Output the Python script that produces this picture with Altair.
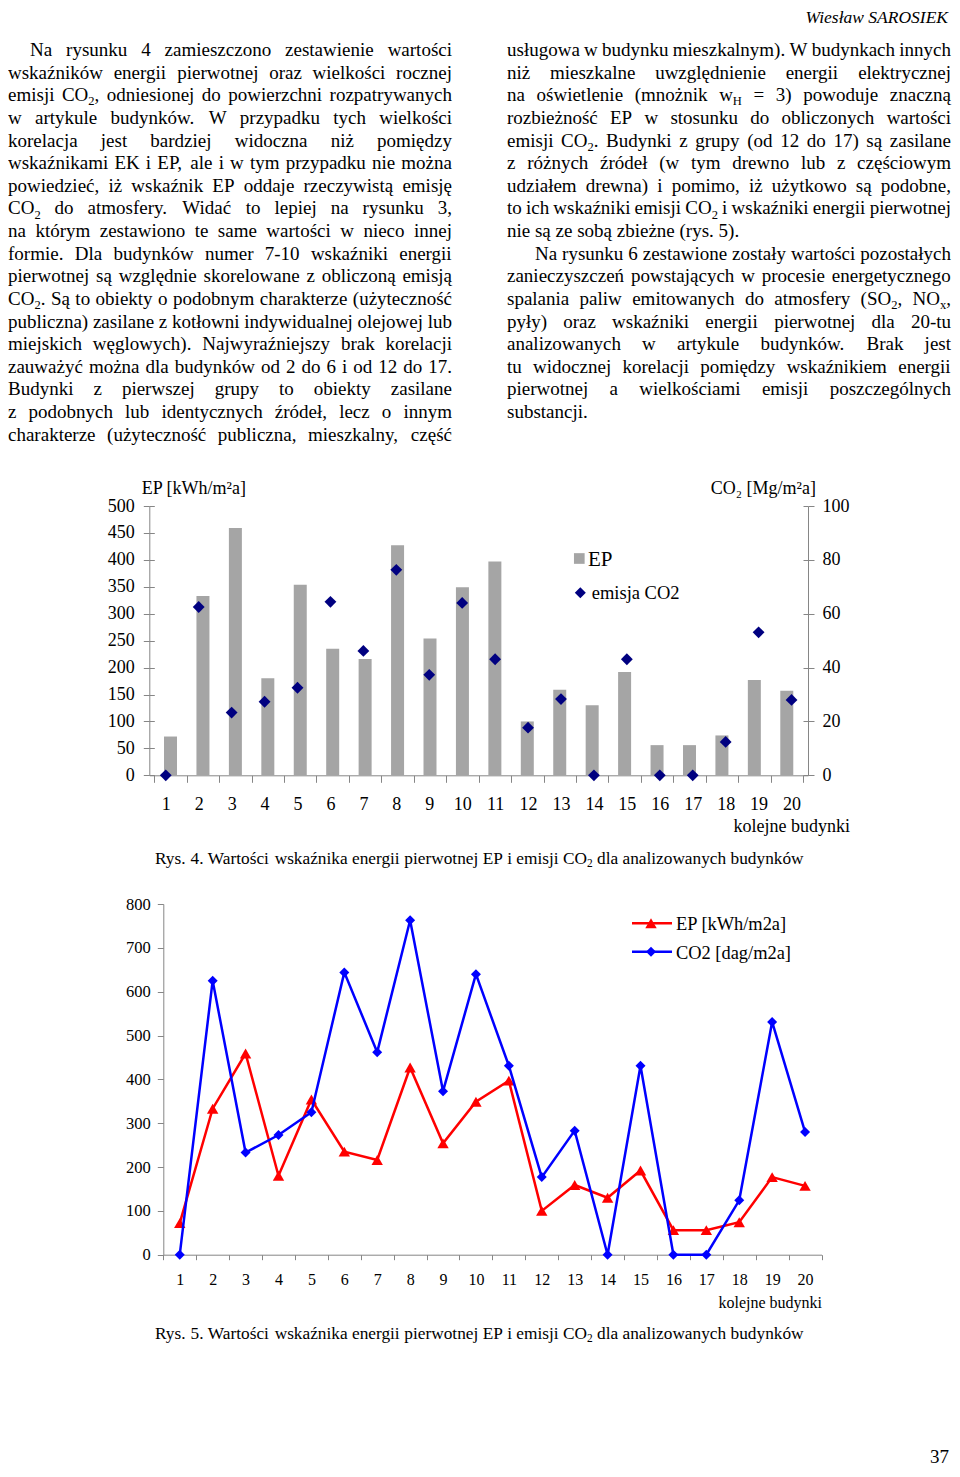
import altair as alt
import pandas as pd

# ---------------- chart values ----------------
buildings = list(range(1, 21))
ep_kwh = [72, 333, 459, 180, 354, 235, 216, 427, 254, 349, 397, 100, 159, 130, 192, 56, 56, 74, 177, 157]
co2_mg = [0, 62.5, 23.3, 27.3, 32.5, 64.4, 46.2, 76.3, 37.3, 64.0, 43.1, 17.7, 28.3, 0, 43.1, 0, 0, 12.4, 53.1, 28.0]
co2_dag = [0, 625, 233, 273, 325, 644, 462, 763, 373, 640, 431, 177, 283, 0, 431, 0, 0, 124, 531, 280]
ep_ticks = [0, 50, 100, 150, 200, 250, 300, 350, 400, 450, 500]
co2_ticks = [0, 20, 40, 60, 80, 100]
fig5_ticks = [0, 100, 200, 300, 400, 500, 600, 700, 800]
band_edges = [0.5, 1.5, 2.5, 3.5, 4.5, 5.5, 6.5, 7.5, 8.5, 9.5, 10.5,
              11.5, 12.5, 13.5, 14.5, 15.5, 16.5, 17.5, 18.5, 19.5, 20.5]

# ---------------- page text ----------------
header_text = "Wiesław SAROSIEK"
page_no = "37"
left_lines = [
    "Na rysunku 4 zamieszczono zestawienie wartości",
    "wskaźników energii pierwotnej oraz wielkości rocznej",
    "emisji CO_2, odniesionej do powierzchni rozpatrywanych",
    "w artykule budynków. W przypadku tych wielkości",
    "korelacja jest bardziej widoczna niż pomiędzy",
    "wskaźnikami EK i EP, ale i w tym przypadku nie można",
    "powiedzieć, iż wskaźnik EP oddaje rzeczywistą emisję",
    "CO_2 do atmosfery. Widać to lepiej na rysunku 3,",
    "na którym zestawiono te same wartości w nieco innej",
    "formie. Dla budynków numer 7-10 wskaźniki energii",
    "pierwotnej są względnie skorelowane z obliczoną emisją",
    "CO_2. Są to obiekty o podobnym charakterze (użyteczność",
    "publiczna) zasilane z kotłowni indywidualnej olejowej lub",
    "miejskich węglowych). Najwyraźniejszy brak korelacji",
    "zauważyć można dla budynków od 2 do 6 i od 12 do 17.",
    "Budynki z pierwszej grupy to obiekty zasilane",
    "z podobnych lub identycznych źródeł, lecz o innym",
    "charakterze (użyteczność publiczna, mieszkalny, część",
]
right_lines = [
    "usługowa w budynku mieszkalnym). W budynkach innych",
    "niż mieszkalne uwzględnienie energii elektrycznej",
    "na oświetlenie (mnożnik w_H = 3) powoduje znaczną",
    "rozbieżność EP w stosunku do obliczonych wartości",
    "emisji CO_2. Budynki z grupy (od 12 do 17) są zasilane",
    "z różnych źródeł (w tym drewno lub z częściowym",
    "udziałem drewna) i pomimo, iż użytkowo są podobne,",
    "to ich wskaźniki emisji CO_2 i wskaźniki energii pierwotnej",
    "nie są ze sobą zbieżne (rys. 5).",
    "Na rysunku 6 zestawione zostały wartości pozostałych",
    "zanieczyszczeń powstających w procesie energetycznego",
    "spalania paliw emitowanych do atmosfery (SO_2, NO_x,",
    "pyły) oraz wskaźniki energii pierwotnej dla 20-tu",
    "analizowanych w artykule budynków. Brak jest",
    "tu widocznej korelacji pomiędzy wskaźnikiem energii",
    "pierwotnej a wielkościami emisji poszczególnych",
    "substancji.",
]
right_indent = [9]
right_last = [8, 16]
caption4 = "Rys. 4. Wartości wskaźnika energii pierwotnej EP i emisji CO_2 dla analizowanych budynków"
caption5 = "Rys. 5. Wartości wskaźnika energii pierwotnej EP i emisji CO_2 dla analizowanych budynków"
ep_title = "EP [kWh/m²a]"
co2_title = "CO₂ [Mg/m²a]"
x_title = "kolejne budynki"
leg1 = ["EP", "emisja CO2"]
leg2 = ["EP [kWh/m2a]", "CO2 [dag/m2a]"]

# ---------------- layout helpers ----------------
W, H = 944, 1461
FONT = "Liberation Serif"
CW = {}


def _set(chars, w):
    for c in chars:
        CW[c] = w


_set("bdghknopquvxyńó", 500)
_set("aceząćęźż", 444)
_set("fr", 333)
_set("ijltł", 278)
_set("m", 778)
_set("w", 722)
_set("sś", 389)
_set("0123456789", 500)
_set(" .,", 250)
_set("()-[]", 333)
_set(":;/", 278)
_set("=", 564)
_set("ADGHKNOQUVXY", 722)
_set("BCR", 667)
_set("ELTZ", 611)
_set("FPSŚ", 556)
_set("I", 333)
_set("J", 389)
_set("M", 889)
_set("W", 944)
SUB = 0.66


def seg_w(s, size):
    return sum(CW.get(c, 500) for c in s) * size / 1000.0


def parse(word):
    segs, buf, i = [], "", 0
    while i < len(word):
        if word[i] == "_" and i + 1 < len(word):
            if buf:
                segs.append((buf, False))
                buf = ""
            segs.append((word[i + 1], True))
            i += 2
        else:
            buf += word[i]
            i += 1
    if buf:
        segs.append((buf, False))
    return segs


def word_w(word, size):
    return sum(seg_w(t, size * SUB if sub else size) for t, sub in parse(word))


def set_line(rows, line, x0, x1, y, size, justify):
    words = line.split(" ")
    widths = [word_w(w, size) for w in words]
    gap = 0.25 * size
    if justify and len(words) > 1:
        gap = (x1 - x0 - sum(widths)) / (len(words) - 1)
    x = x0
    for w in words:
        for t, sub in parse(w):
            s = size * SUB if sub else size
            rows.append({"x": x, "y": y + (0.22 * size if sub else 0), "t": t, "s": s})
            x += seg_w(t, s)
        x += gap


rows_left = []
BODY, LINE0, LEAD = 19, 48.0, 22.63
for i, line in enumerate(left_lines):
    set_line(rows_left, line, 22 if i == 0 else 0, 444, LINE0 + LEAD * i, BODY, True)
for i, line in enumerate(right_lines):
    set_line(rows_left, line, 527 if i in right_indent else 499, 943, LINE0 + LEAD * i, BODY,
             i not in right_last)
set_line(rows_left, caption4, 147, 0, 855.5, 17.3, False)
set_line(rows_left, caption5, 147, 0, 1330.5, 17.3, False)
rows_left += [
    {"x": 133.7, "y": 486, "t": ep_title, "s": 18},
    {"x": 580, "y": 558, "t": leg1[0], "s": 21},
    {"x": 583.7, "y": 591, "t": leg1[1], "s": 18.5},
    {"x": 668, "y": 921.5, "t": leg2[0], "s": 18.4},
    {"x": 668, "y": 950.5, "t": leg2[1], "s": 18.4},
]
rows_right = [
    {"x": 808, "y": 486, "t": co2_title, "s": 18},
    {"x": 842, "y": 824, "t": x_title, "s": 18},
    {"x": 814, "y": 1299.5, "t": x_title, "s": 16},
    {"x": 941, "y": 1455, "t": page_no, "s": 19},
]

df = pd.DataFrame({"b": buildings, "ep": ep_kwh, "co2": co2_mg, "co2d": co2_dag})
one = pd.DataFrame({"k": [0]})

X1 = alt.Scale(domain=[0.5, 20.5], range=[141.3, 800.0], nice=False, zero=False)
Y1 = alt.Scale(domain=[0, 500], range=[767.3, 498.0], nice=False)
Y1R = alt.Scale(domain=[0, 100], range=[767.3, 498.0], nice=False)
X2 = alt.Scale(domain=[0.5, 20.5], range=[155.3, 813.5], nice=False, zero=False)
Y2 = alt.Scale(domain=[0, 800], range=[1246.7, 896.0], nice=False)
GRAY = "#868686"


def ax(**kw):
    base = dict(title=None, grid=False, domainColor=GRAY, tickColor=GRAY, labelColor="black",
                labelFont=FONT, labelFlush=False, labelOverlap=False, domainWidth=1, tickWidth=1)
    base.update(kw)
    return alt.Axis(**base)


# ---------------- figure 4 ----------------
bars = alt.Chart(df).mark_bar(color="#a5a5a5", width=13, orient="vertical").encode(
    x=alt.X("b:Q", scale=X1, axis=ax(orient="bottom", offset=767.3 - H, values=band_edges,
                                      labels=False, tickSize=7)),
    y=alt.Y("ep:Q", scale=Y1, axis=ax(orient="left", offset=-141.3, values=ep_ticks, tickSize=6,
                                       labelPadding=9, labelFontSize=18)),
    y2=alt.Y2(datum=0),
)
tin1 = alt.Chart(df).mark_point(opacity=0).encode(
    x=alt.X("b:Q", scale=X1, axis=None),
    y=alt.Y("ep:Q", scale=Y1, axis=ax(orient="right", offset=141.3 - W, values=ep_ticks,
                                       labels=False, domain=False, tickSize=5)),
)
tin2 = alt.Chart(df).mark_point(opacity=0).encode(
    x=alt.X("b:Q", scale=X1, axis=None),
    y=alt.Y("co2:Q", scale=Y1R, axis=ax(orient="left", offset=-800.0, values=co2_ticks,
                                         labels=False, domain=False, tickSize=5)),
)
dia1 = alt.Chart(df).mark_point(shape="diamond", filled=True, size=140, color="#000080", opacity=1).encode(
    x=alt.X("b:Q", scale=X1, axis=ax(orient="bottom", offset=767.3 - H, values=buildings,
                                      ticks=False, domain=False, labelPadding=20, labelFontSize=18)),
    y=alt.Y("co2:Q", scale=Y1R, axis=ax(orient="right", offset=800.0 - W, values=co2_ticks,
                                         tickSize=6, labelPadding=8, labelFontSize=18)),
)
leg_sq = alt.Chart(one).mark_square(size=114, color="#a5a5a5", opacity=1).encode(
    x=alt.value(571.3), y=alt.value(550.5))
leg_dia = alt.Chart(one).mark_point(shape="diamond", filled=True, size=121, color="#000080", opacity=1).encode(
    x=alt.value(572.3), y=alt.value(584.7))

# ---------------- figure 5 ----------------
red_line = alt.Chart(df).mark_line(color="#ff0000", strokeWidth=2.5).encode(
    x=alt.X("b:Q", scale=X2, axis=ax(orient="bottom", offset=1246.7 - H, values=band_edges,
                                      labels=False, tickSize=5)),
    y=alt.Y("ep:Q", scale=Y2, axis=ax(orient="left", offset=-155.3, values=fig5_ticks, tickSize=6,
                                       labelPadding=7, labelFontSize=16.5)),
)
red_pts = alt.Chart(df).mark_point(shape="triangle-up", filled=True, size=130, color="#ff0000", opacity=1).encode(
    x=alt.X("b:Q", scale=X2, axis=None), y=alt.Y("ep:Q", scale=Y2, axis=None))
blue_line = alt.Chart(df).mark_line(color="#0000ff", strokeWidth=2.5).encode(
    x=alt.X("b:Q", scale=X2, axis=ax(orient="bottom", offset=1246.7 - H, values=buildings,
                                      ticks=False, domain=False, labelPadding=16.5, labelFontSize=16)),
    y=alt.Y("co2d:Q", scale=Y2, axis=None),
)
blue_pts = alt.Chart(df).mark_point(shape="diamond", filled=True, size=100, color="#0000ff", opacity=1).encode(
    x=alt.X("b:Q", scale=X2, axis=None), y=alt.Y("co2d:Q", scale=Y2, axis=None))

leg_red_l = alt.Chart(one).mark_rule(color="#ff0000", strokeWidth=2.5).encode(
    x=alt.value(624), x2=alt.value(664), y=alt.value(915.3))
leg_red_p = alt.Chart(one).mark_point(shape="triangle-up", filled=True, size=130, color="#ff0000", opacity=1).encode(
    x=alt.value(643), y=alt.value(915.3))
leg_blue_l = alt.Chart(one).mark_rule(color="#0000ff", strokeWidth=2.5).encode(
    x=alt.value(624), x2=alt.value(664), y=alt.value(943.7))
leg_blue_p = alt.Chart(one).mark_point(shape="diamond", filled=True, size=100, color="#0000ff", opacity=1).encode(
    x=alt.value(643), y=alt.value(943.7))

# ---------------- text ----------------
text_left = alt.Chart(pd.DataFrame(rows_left)).mark_text(
    align="left", baseline="alphabetic", font=FONT, color="black").encode(
    x=alt.X("x:Q", scale=None, axis=None), y=alt.Y("y:Q", scale=None, axis=None),
    text="t:N", size=alt.Size("s:Q", scale=None, legend=None))
text_right = alt.Chart(pd.DataFrame(rows_right)).mark_text(
    align="right", baseline="alphabetic", font=FONT, color="black").encode(
    x=alt.X("x:Q", scale=None, axis=None), y=alt.Y("y:Q", scale=None, axis=None),
    text="t:N", size=alt.Size("s:Q", scale=None, legend=None))
text_head = alt.Chart(pd.DataFrame({"t": [header_text]})).mark_text(
    align="right", baseline="alphabetic", font=FONT, fontStyle="italic", fontSize=17.5, color="black").encode(
    x=alt.value(940), y=alt.value(15), text="t:N")

chart = alt.layer(
    bars, tin1, tin2, dia1, leg_sq, leg_dia,
    red_line, red_pts, blue_line, blue_pts, leg_red_l, leg_red_p, leg_blue_l, leg_blue_p,
    text_left, text_right, text_head,
).resolve_scale(x="independent", y="independent", size="independent").properties(
    width=W, height=H, padding=0, autosize="none", background="white"
).configure_view(stroke=None)

chart.save("out.html", embed_options={"renderer": "svg", "actions": False})
